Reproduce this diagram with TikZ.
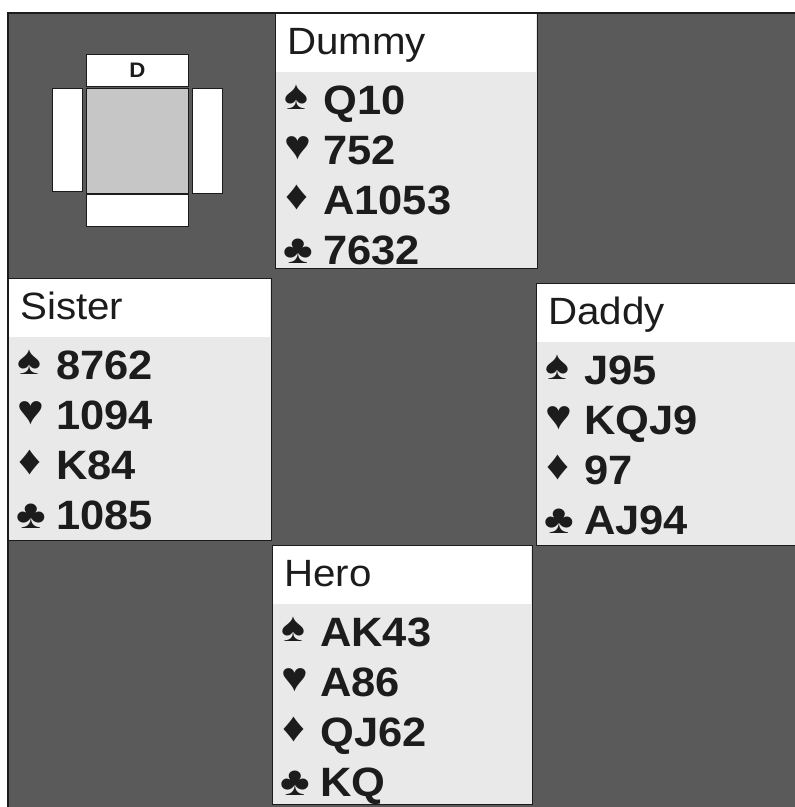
\documentclass[tikz,border=0pt]{standalone}
\usepackage{fontspec}
\setmainfont[FakeStretch=1.06]{Liberation Sans}
\newfontfamily\suitfont[FakeStretch=1.1]{Liberation Sans}
\definecolor{felt}{RGB}{90,90,90}
\definecolor{panel}{RGB}{233,233,233}
\definecolor{ink}{RGB}{28,28,28}
\definecolor{compass}{RGB}{198,198,198}
\tikzset{
  panelbox/.style={draw=ink, line width=1pt, fill=panel, anchor=north west, inner sep=0pt, rectangle},
  namelabel/.style={anchor=base west, inner sep=0pt, text=ink, font=\fontsize{38}{38}\selectfont},
  cardlabel/.style={anchor=base west, inner sep=0pt, text=ink, font=\bfseries\fontsize{41}{41}\selectfont},
  suitlabel/.style={anchor=base west, inner sep=0pt, text=ink, font=\suitfont\fontsize{41}{41}\selectfont},
  seatbox/.style={draw=ink, line width=1pt, fill=white, anchor=north west, inner sep=0pt, rectangle},
}
\newcommand\handpanel[6]{%
  \node[panelbox, minimum width={#4pt-#2pt}, minimum height={#5pt-#3pt}] (#1) at (#2,#3) {};
  \fill[white] (#2+0.6,#3+0.6) rectangle (#4-0.6,#3+59);
  \node[namelabel] (#1-name) at (#2+12,#3+41) {#6};
}
\newcommand\handcards[7]{%
  \node[suitlabel] (#1-ss) at (#2+9,#3+96) {♠};
  \node[suitlabel] (#1-hs) at (#2+9,#3+146) {♥};
  \node[suitlabel] (#1-ds) at (#2+10,#3+196) {♦};
  \node[suitlabel] (#1-cs) at (#2+8,#3+250) {♣};
  \node[cardlabel] (#1-s) at (#2+48,#3+101) {#4};
  \node[cardlabel] (#1-h) at (#2+48,#3+151) {#5};
  \node[cardlabel] (#1-d) at (#2+48,#3+201) {#6};
  \node[cardlabel] (#1-c) at (#2+48,#3+251) {#7};
}
\begin{document}
\begin{tikzpicture}[x=1pt,y=-1pt]
\useasboundingbox (0,0) rectangle (795,807);
\fill[white] (0,0) rectangle (795,807);
\fill[felt] (8,13) rectangle (796,808);
\draw[ink, line width=1.5pt] (8,808) -- (8,13) -- (796,13);

% compass
\node[seatbox, minimum width=102pt, minimum height=32pt] (north) at (86,54) {};
\node[anchor=center, inner sep=0pt, text=ink, font=\bfseries\fontsize{21}{21}\selectfont] (dealer) at (north.center) {D};
\node[panelbox, fill=compass, minimum width=102pt, minimum height=105pt] (table) at (86,88) {};
\node[seatbox, minimum width=30pt, minimum height=103pt] (west) at (52,88) {};
\node[seatbox, minimum width=30pt, minimum height=105pt] (east) at (192,88) {};
\node[seatbox, minimum width=102pt, minimum height=32pt] (south) at (86,194) {};

% hands
\handpanel{dummy}{275}{13}{537}{268}{Dummy}
\handcards{dummy}{275}{13}{Q10}{752}{A1053}{7632}
\handpanel{sister}{8}{278}{271}{540}{Sister}
\handcards{sister}{8}{278}{8762}{1094}{K84}{1085}
\handpanel{daddy}{536}{283}{797}{545}{Daddy}
\handcards{daddy}{536}{283}{J95}{KQJ9}{97}{AJ94}
\handpanel{hero}{272}{545}{532}{804}{Hero}
\handcards{hero}{272}{545}{AK43}{A86}{QJ62}{KQ}
\end{tikzpicture}
\end{document}
